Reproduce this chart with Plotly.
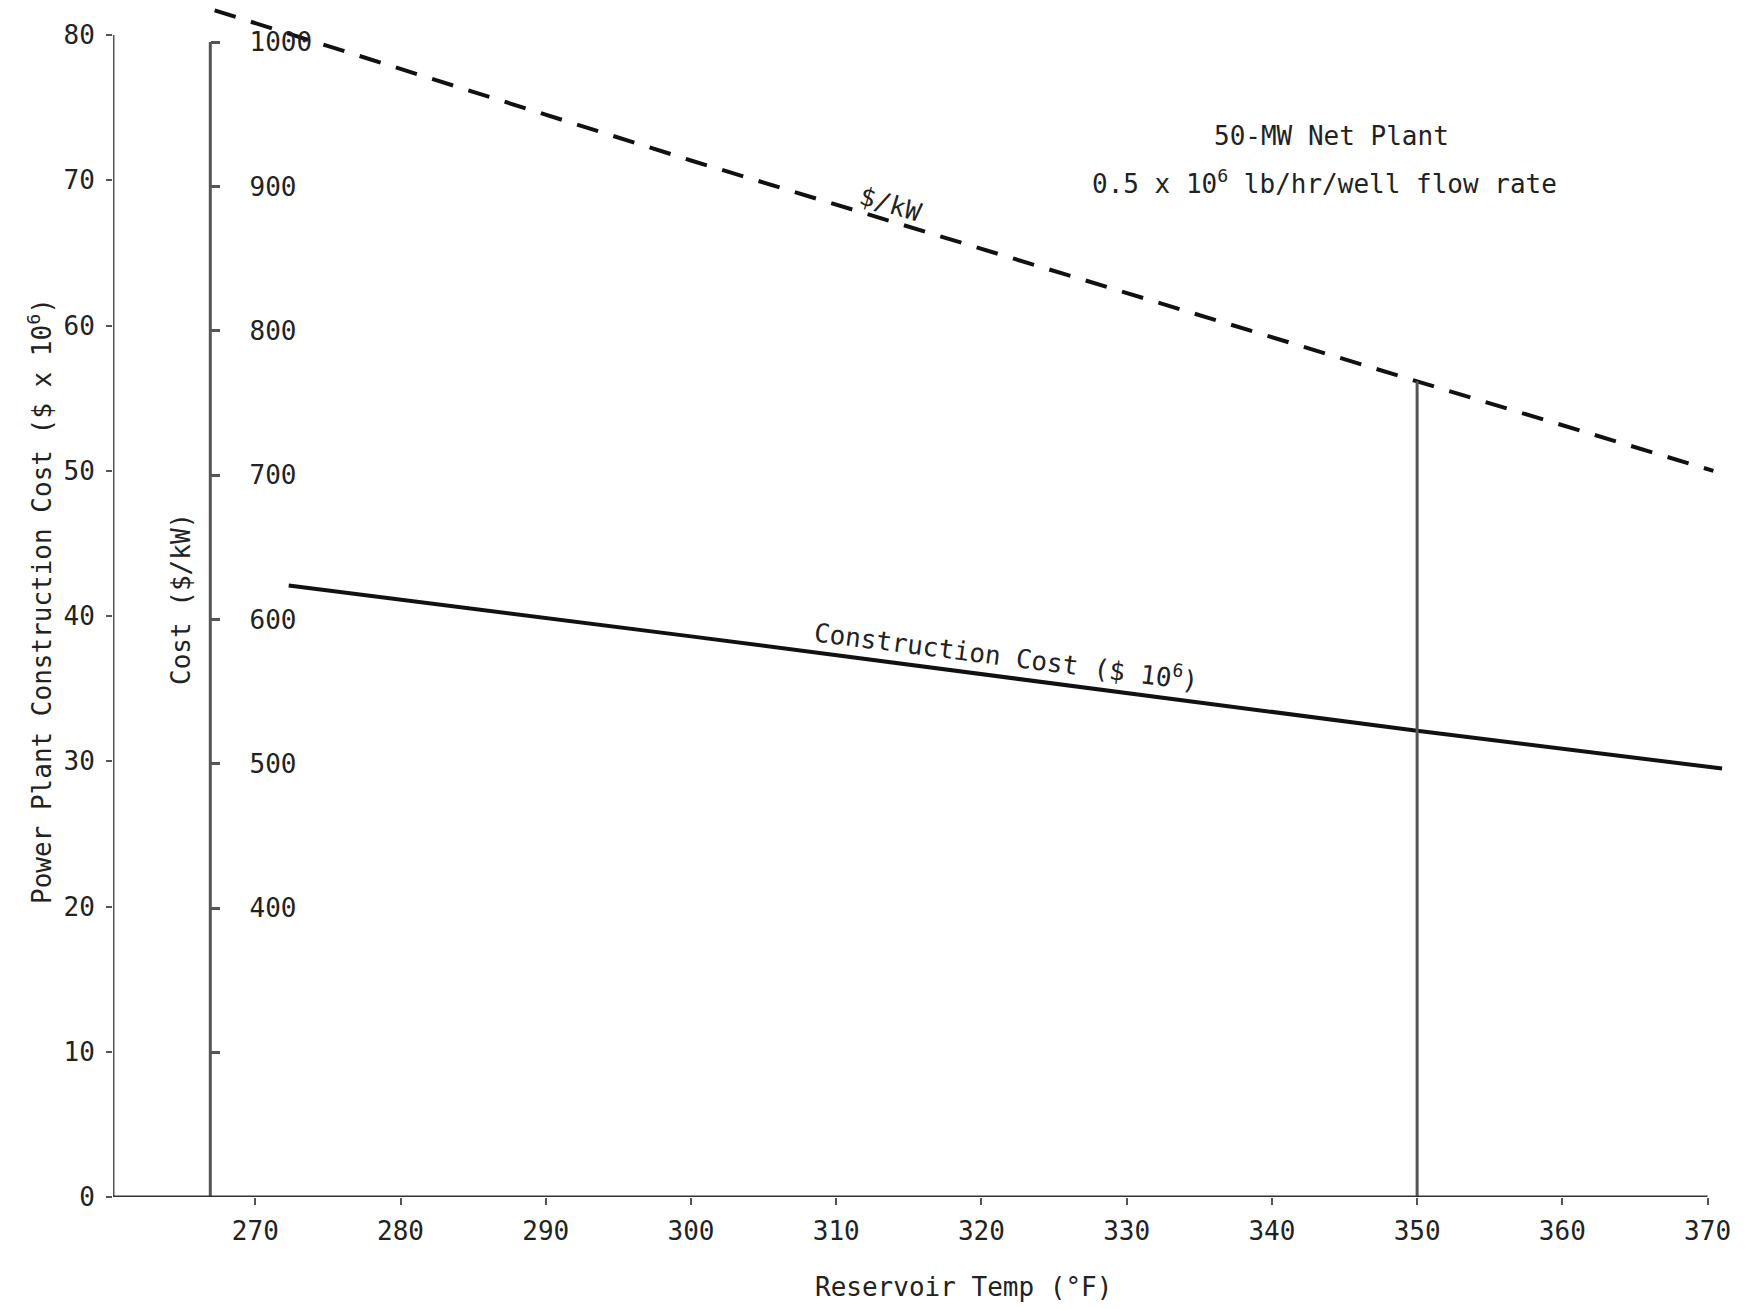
import plotly.graph_objects as go

# ---- data ----
temp_construction = [272.3, 300, 350, 371.0]
cost_construction = [42.1, 38.6, 32.1, 29.5]          # $ x 10^6

temp_kw = [267.2, 300, 350, 370.4]
cost_kw = [1022, 918, 765, 703]                        # $/kW

marker_temp = [350, 350]
marker_cost = [200, 765]                               # $/kW (drop line)

y_ticks = [0, 10, 20, 30, 40, 50, 60, 70, 80]
y2_ticks = [400, 500, 600, 700, 800, 900, 1000]
y2_minor_ticks = [300]
x_ticks = [270, 280, 290, 300, 310, 320, 330, 340, 350, 360, 370]

FONT = "DejaVu Sans Mono"
INK = "#111111"
AXIS = "#555555"

X_RANGE = [260.2, 371.2]
Y_RANGE = [0, 82]
Y2_RANGE = [200, 1025]
Y2_POS_T = 266.9

fig = go.Figure()

fig.add_trace(go.Scatter(
    x=temp_construction, y=cost_construction, mode="lines",
    line=dict(color=INK, width=4), yaxis="y", showlegend=False))

fig.add_trace(go.Scatter(
    x=temp_kw, y=cost_kw, mode="lines",
    line=dict(color=INK, width=4, dash="22px,16px"), yaxis="y2", showlegend=False))

fig.add_trace(go.Scatter(
    x=marker_temp, y=marker_cost, mode="lines",
    line=dict(color=AXIS, width=3), yaxis="y2", showlegend=False))

# axis lines (drawn only over their labelled extents)
fig.add_shape(type="line", xref="x", yref="y", x0=X_RANGE[0], x1=X_RANGE[0],
              y0=y_ticks[0], y1=y_ticks[-1], line=dict(color=AXIS, width=3))
fig.add_shape(type="line", xref="x", yref="y2", x0=Y2_POS_T, x1=Y2_POS_T,
              y0=Y2_RANGE[0], y1=y2_ticks[-1], line=dict(color=AXIS, width=3))
fig.add_shape(type="line", xref="x", yref="y", x0=X_RANGE[0], x1=x_ticks[-1],
              y0=0, y1=0, line=dict(color="#333333", width=3))

tickfont = dict(family=FONT, size=26, color="#222222")

fig.update_layout(
    width=1745, height=1309,
    margin=dict(l=113, r=20, t=6, b=112),
    plot_bgcolor="white", paper_bgcolor="white",
    font=dict(family=FONT, size=26, color="#222222"),
    xaxis=dict(range=X_RANGE, tickvals=x_ticks, showgrid=False, zeroline=False,
               showline=False, ticks="outside", ticklen=7, tickwidth=2, tickcolor=AXIS,
               tickfont=tickfont, ticklabelstandoff=4),
    yaxis=dict(range=Y_RANGE, tickvals=y_ticks, showgrid=False, zeroline=False,
               showline=False, ticks="outside", ticklen=6, tickwidth=2, tickcolor=AXIS,
               tickfont=tickfont, ticklabelstandoff=6),
    yaxis2=dict(range=Y2_RANGE, tickvals=y2_ticks,
                minor=dict(tickvals=y2_minor_ticks, ticks="outside", ticklen=9,
                           tickwidth=3, tickcolor=AXIS, showgrid=False),
                overlaying="y", anchor="free",
                position=(Y2_POS_T - X_RANGE[0]) / (X_RANGE[1] - X_RANGE[0]),
                side="right", showgrid=False, zeroline=False, showline=False,
                ticks="outside", ticklen=9, tickwidth=3, tickcolor=AXIS,
                tickfont=tickfont, ticklabelstandoff=24),
)

def px_x(p):
    return (p - 113) / 1612

def px_y(p):
    return (1197 - p) / 1191

ann = [
    dict(text="Power Plant Construction Cost ($ x 10<sup>6</sup>)", x=px_x(40), y=px_y(601), textangle=-90),
    dict(text="Cost ($/kW)", x=px_x(181), y=px_y(599), textangle=-90),
    dict(text="Reservoir Temp (°F)", x=px_x(963), y=px_y(1287), textangle=0),
    dict(text="50-MW Net Plant", x=px_x(1331), y=px_y(136), textangle=0),
    dict(text="0.5 x 10<sup>6</sup> lb/hr/well flow rate", x=px_x(1324), y=px_y(182), textangle=0),
    dict(text="Construction Cost ($ 10<sup>6</sup>)", x=px_x(1007), y=px_y(655), textangle=7.3),
    dict(text="$/kW", x=px_x(890), y=px_y(204), textangle=17),
]
for a in ann:
    fig.add_annotation(xref="paper", yref="paper", showarrow=False,
                       xanchor="center", yanchor="middle",
                       font=dict(family=FONT, size=26, color="#222222"), **a)

fig.write_html("out.html", config={"displayModeBar": False},
               post_script="document.body.style.margin='0px';document.body.style.overflow='hidden';")
